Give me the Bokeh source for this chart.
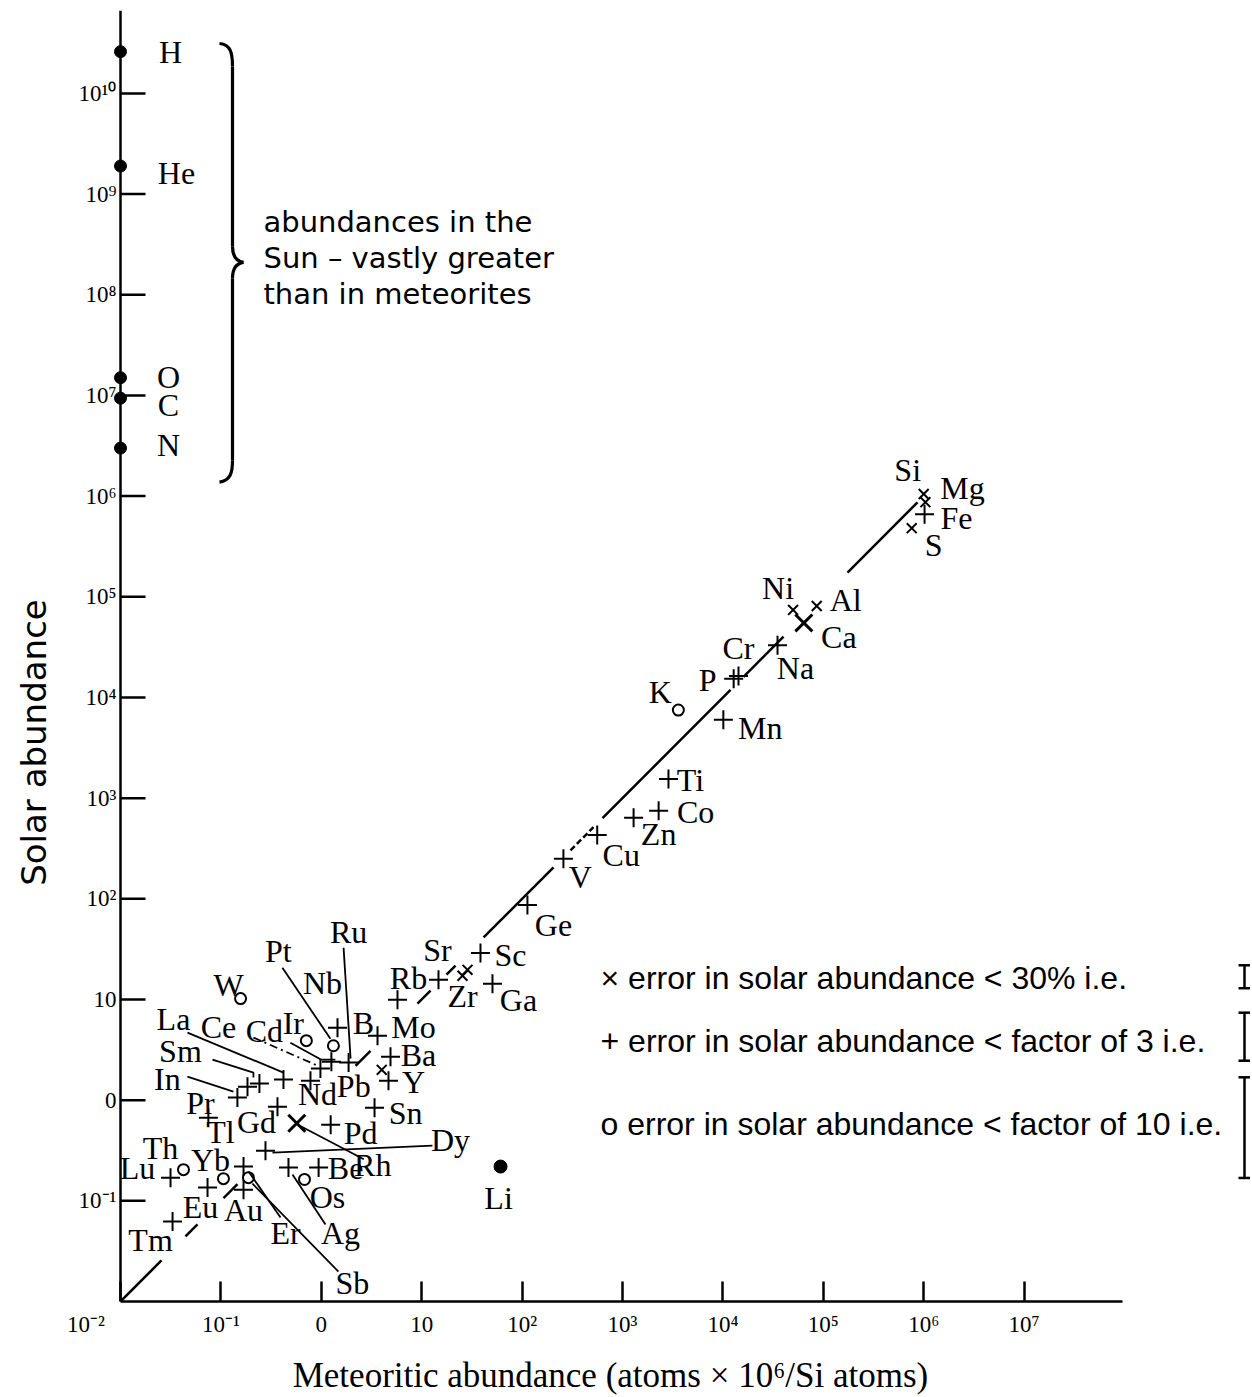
import math
from bokeh.plotting import figure
from bokeh.models import FixedTicker, Span
from bokeh.core.properties import value
from bokeh.embed import file_html
from bokeh.resources import INLINE

# ---------------- data ----------------
# Elements only measured in the Sun (drawn on the solar axis)
sun_elements = ["H", "He", "O", "C", "N"]
sun_abundance = [2.6e10, 1.9e9, 1.5e7, 9.4e6, 3.0e6]

# x : error in solar abundance < 30%
x_elements   = ["Si", "Mg", "S", "Ni", "Al", "Ca", "Sr", "Zr", "Pb", "Rh"]
x_meteoritic = [1.0e6, 1.04e6, 7.6e5, 5.0e4, 8.6e4, 6.4e4, 28.6, 25.5, 4.0, 0.57]
x_solar      = [1.05e6, 8.7e5, 4.8e5, 7.4e4, 8.1e4, 5.5e4, 19.7, 17.2, 2.0, 0.59]

# + : error in solar abundance < factor of 3
plus_elements = ["Fe", "Na", "Cr", "P", "Mn", "Ti", "Co", "Zn", "Cu", "V", "Ge",
                 "Sc", "Rb", "Ga", "Mo", "B", "Ba", "Y", "Sn", "Pd", "Ru", "Nb",
                 "Cd", "Ce", "La", "Sm", "In", "Pr", "Tl", "Nd", "Gd", "Dy", "Ag",
                 "Be", "Er", "Au", "Eu", "Lu", "Tm"]
plus_meteoritic = [1.02e6, 3.5e4, 1.43e4, 1.28e4, 1.01e4, 2.87e3, 2.29e3, 1.29e3,
                   5.6e2, 2.58e2, 1.13e2, 38.5, 14.7, 50.7, 5.74, 3.63, 4.89, 4.67,
                   3.39, 1.24, 1.87, 1.45, 1.26, 0.98, 0.42, 0.242, 0.146, 0.184,
                   0.075, 0.78, 0.366, 0.278, 0.471, 0.94, 0.168, 0.168, 0.0736,
                   0.0315, 0.033]
plus_solar = [6.6e5, 3.3e4, 1.63e4, 1.53e4, 6.0e3, 1.55e3, 7.5e2, 6.4e2, 4.3e2,
              2.5e2, 87, 29, 15.7, 14.3, 9.95, 4.37, 2.70, 1.56, 0.84, 0.57, 2.36,
              5.25, 2.41, 2.06, 1.60, 1.46, 1.06, 1.36, 0.67, 1.56, 0.86, 0.315,
              0.214, 0.214, 0.219, 0.129, 0.1355, 0.170, 0.0622]

# o : error in solar abundance < factor of 10
o_elements   = ["K", "Pt", "Ir", "Os", "Sb", "Yb", "Th", "W"]
o_meteoritic = [3.6e3, 1.32, 0.71, 0.68, 0.188, 0.106, 0.0424, 0.157]
o_solar      = [7.5e3, 3.47, 3.90, 0.163, 0.170, 0.166, 0.204, 10.2]

# Li (filled point)
li_meteoritic = [61]
li_solar = [0.219]

# equal-abundance line (log10 extents of its drawn pieces)
diag_solid = [(-2.0, -1.592), (-1.353, -1.233), (-0.974, -0.835), (0.341, 0.490),
              (0.958, 1.088), (1.247, 1.337), (1.616, 2.313), (2.801, 4.076),
              (4.205, 4.604), (5.241, 5.938)]
diag_dashed = [(2.482, 2.711)]

FSP = "\u2007"  # figure space (keeps the corner label / titles where the original has them)
x_ticks = [1e-2, 1e-1, 1.0, 10.0, 1e2, 1e3, 1e4, 1e5, 1e6, 1e7]
x_tick_labels = ["10⁻²" + FSP * 6, "10⁻¹", "0", "10", "10²", "10³", "10⁴", "10⁵",
                 "10⁶", "10⁷"]
y_ticks = [1e-2, 1e-1, 1.0, 10.0, 1e2, 1e3, 1e4, 1e5, 1e6, 1e7, 1e8, 1e9, 1e10]
y_tick_labels = ["", "10⁻¹", "0", "10", "10²", "10³", "10⁴", "10⁵", "10⁶", "10⁷",
                 "10⁸", "10⁹", "10¹⁰"]

x_title = "Meteoritic abundance (atoms × 10⁶/Si atoms)"
y_title = "Solar abundance"

legend_texts = ["× error in solar abundance < 30% i.e.",
                "+ error in solar abundance < factor of 3 i.e.",
                "o error in solar abundance < factor of 10 i.e."]
legend_error_factors = [1.3, 3 ** 0.5, 10 ** 0.5]   # half-range of each bar

sun_note = ["abundances in the", "Sun – vastly greater", "than in meteorites"]

# ---------------- layout ----------------
W, H = 1250, 1397
ML, MR, MT = 110, 0, 10
PXX = 100.4          # pixels per decade, x
PXY = 100.75         # pixels per decade, y
AX_X, AX_Y = 120, 1302   # page position of the origin (10^-2, 10^-2)
FW = W - ML - MR
FH = AX_Y - MT
MB = H - MT - FH
X0 = -2.0 - (AX_X - ML) / PXX
X1 = X0 + FW / PXX
Y0 = -2.0
Y1 = Y0 + FH / PXY


def px2data(px, py):
    return (10 ** (X0 + (px - ML) / PXX), 10 ** (Y0 + (AX_Y - py) / PXY))


def shift(x, y, dx, dy):
    return x * 10 ** (dx / PXX), y * 10 ** (-dy / PXY)


# label offsets (pixels from the point)
label_off = {
    "Si": (-16, -24), "Mg": (37, -14), "Fe": (32, 4), "S": (22, 17),
    "Ni": (-15, -22), "Al": (29, -6), "Ca": (35, 14), "Na": (18, 23),
    "Cr": (0, -28), "P": (-26, 1), "K": (-18, -18), "Mn": (37, 8),
    "Ti": (22, 1), "Co": (37, 1), "Zn": (25, 16), "Cu": (24, 20),
    "V": (17, 18), "Ge": (26, 20), "Sc": (30, 2), "Sr": (-30, -20),
    "Zr": (0, 20), "Rb": (-30, -2), "Ga": (26, 16), "Mo": (16, 27),
    "B": (-14, -13), "Ba": (28, -2), "Y": (25, 1), "Pb": (-28, 16),
    "Sn": (31, 5), "Pd": (30, 8), "Ru": (0, -131), "Nb": (-15, -45),
    "Pt": (-55, -95), "Ir": (-13, -18), "Cd": (-67, -31), "Ce": (-102, -42),
    "La": (-110, -61), "Sm": (-79, -33), "In": (-70, -19), "Pr": (-47, 16),
    "Tl": (12, 14), "Nd": (7, 13), "Gd": (-21, 15), "Rh": (76, 42),
    "Dy": (185, -11), "Be": (27, 0), "Os": (23, 18), "Ag": (52, 65),
    "Sb": (104, 105), "Er": (42, 66), "Au": (0, 20), "Eu": (-7, 19),
    "Yb": (-13, -19), "Th": (-23, -22), "Lu": (-33, -10), "Tm": (-22, 18),
    "Li": (-2, 31), "W": (-12, -14),
}
sun_label_off = {"H": (50, 0), "He": (56, 7), "O": (48, -1), "C": (48, 7), "N": (48, -3)}

# leader lines (pixel offsets from the point): name -> (polyline, dash)
leaders = {
    "Ru": ([(-5, -115), (2, -4)], "solid"),
    "Pt": ([(-51, -78), (-3, -7)], "solid"),
    "Cd": ([(-41, -19), (-10, -2), (4, -2)], "solid"),
    "Ce": ([(-67, -31), (-3, -3)], "8 4 2 4"),
    "La": ([(-96, -47), (0, -7)], "solid"),
    "Sm": ([(-47, -24), (-6, -11), (-6, -6)], "solid"),
    "In": ([(-50, -21), (-4, -6)], "solid"),
    "Rh": ([(4, 3), (67, 36)], "solid"),
    "Dy": ([(7, 2), (167, -5)], "solid"),
    "Ag": ([(4, 7), (37, 57)], "solid"),
    "Sb": ([(4, 6), (90, 94)], "solid"),
    "Er": ([(5, 5), (37, 51)], "solid"),
}

SERIF = "Liberation Serif"
Y_TICK_LEN = 25

p = figure(width=W, height=H, x_axis_type="log", y_axis_type="log",
           x_range=(10 ** X0, 10 ** X1), y_range=(10 ** Y0, 10 ** Y1),
           output_backend="svg", toolbar_location=None,
           min_border_left=ML, min_border_right=MR,
           min_border_top=MT, min_border_bottom=MB)
p.grid.visible = False
p.outline_line_color = None
p.background_fill_color = "white"
p.border_fill_color = "white"

for ax in (p.xaxis[0], p.yaxis[0]):
    ax.axis_line_width = 2.5
    ax.axis_line_color = "black"
    ax.major_tick_line_width = 2.5
    ax.major_tick_line_color = "black"
    ax.minor_tick_line_color = None
    ax.major_tick_out = 0
    ax.major_label_text_font = SERIF
    ax.major_label_text_font_size = "23px"
    ax.major_label_text_color = "black"
    ax.axis_label_text_color = "black"
    ax.axis_label_text_font_style = "normal"

p.xaxis.ticker = FixedTicker(ticks=x_ticks)
p.xaxis.major_label_overrides = dict(zip(x_ticks, x_tick_labels))
p.xaxis.major_tick_in = 20
p.xaxis.major_label_standoff = 10
p.xaxis.bounds = (1e-2, 10 ** 7.98)
p.xaxis.axis_label = x_title + FSP * 8
p.xaxis.axis_label_text_font = SERIF
p.xaxis.axis_label_text_font_size = "35px"
p.xaxis.axis_label_standoff = 16

# y axis: labels from Bokeh, the axis line and its ticks drawn at 10^-2
p.yaxis.ticker = FixedTicker(ticks=y_ticks)
p.yaxis.major_label_overrides = dict(zip(y_ticks, y_tick_labels))
p.yaxis.axis_line_color = None
p.yaxis.major_tick_line_color = None
p.yaxis.major_tick_in = 0
p.yaxis.major_label_standoff = -6
p.yaxis.axis_label = y_title + FSP * 8
p.yaxis.axis_label_text_font = "DejaVu Sans"
p.yaxis.axis_label_text_font_size = "34px"
p.yaxis.axis_label_standoff = 22

p.add_layout(Span(location=1e-2, dimension="height", line_color="black", line_width=2.5))
yt = y_ticks[1:]
p.segment(x0=[1e-2] * len(yt), y0=yt, x1=[1e-2 * 10 ** (Y_TICK_LEN / PXX)] * len(yt),
          y1=yt, line_color="black", line_width=2.5)

# equal abundance line
p.segment(x0=[10 ** a for a, b in diag_solid], y0=[10 ** a for a, b in diag_solid],
          x1=[10 ** b for a, b in diag_solid], y1=[10 ** b for a, b in diag_solid],
          line_color="black", line_width=2.5)
p.segment(x0=[10 ** a for a, b in diag_dashed], y0=[10 ** a for a, b in diag_dashed],
          x1=[10 ** b for a, b in diag_dashed], y1=[10 ** b for a, b in diag_dashed],
          line_color="black", line_width=2.5, line_dash="6 3")

# all measured points
allpts = {}
for n, xv, yv in zip(x_elements, x_meteoritic, x_solar):
    allpts[n] = (xv, yv)
for n, xv, yv in zip(plus_elements, plus_meteoritic, plus_solar):
    allpts[n] = (xv, yv)
for n, xv, yv in zip(o_elements, o_meteoritic, o_solar):
    allpts[n] = (xv, yv)
allpts["Li"] = (li_meteoritic[0], li_solar[0])

# leader lines
for name, (poly, dash) in leaders.items():
    xv, yv = allpts[name]
    xs, ys = [], []
    for dx, dy in poly:
        a, b = shift(xv, yv, dx, dy)
        xs.append(a)
        ys.append(b)
    p.line(xs, ys, line_color="black", line_width=1.8, line_dash=dash)

# markers
big_x = {"Ca", "Rh"}
sx = [(n, a, b) for n, a, b in zip(x_elements, x_meteoritic, x_solar) if n not in big_x]
bx = [(n, a, b) for n, a, b in zip(x_elements, x_meteoritic, x_solar) if n in big_x]
p.scatter([a for _, a, _ in sx], [b for _, _, b in sx], marker="x", size=14,
          line_color="black", line_width=2)
p.scatter([a for _, a, _ in bx], [b for _, _, b in bx], marker="x", size=24,
          line_color="black", line_width=3)
p.scatter(plus_meteoritic, plus_solar, marker="cross", size=19,
          line_color="black", line_width=2)
p.scatter(o_meteoritic, o_solar, marker="circle", size=11, fill_color=None,
          line_color="black", line_width=2)
p.scatter(li_meteoritic, li_solar, marker="circle", size=13, fill_color="black",
          line_color="black")

sun_x = [1e-2] * len(sun_elements)
p.scatter(sun_x, sun_abundance, marker="circle", size=12, fill_color="black",
          line_color="black")

# element labels
lx, ly, lt = [], [], []
for name, (xv, yv) in allpts.items():
    dx, dy = label_off[name]
    a, b = shift(xv, yv, dx, dy)
    lx.append(a); ly.append(b); lt.append(name)
for name, yv in zip(sun_elements, sun_abundance):
    dx, dy = sun_label_off[name]
    a, b = shift(1e-2, yv, dx, dy)
    lx.append(a); ly.append(b); lt.append(name)
p.text(x=lx, y=ly, text=lt, text_font=value(SERIF), text_font_size="32px",
       text_align="center", text_baseline="middle", text_color="black")

# brace for the solar-only elements
def bz(pts):
    (x0, y0), (c0x, c0y), (c1x, c1y), (x1, y1) = [px2data(*q) for q in pts]
    return dict(x0=[x0], y0=[y0], cx0=[c0x], cy0=[c0y], cx1=[c1x], cy1=[c1y], x1=[x1], y1=[y1])

for pts in ([(219, 43), (230, 44), (232, 52), (232, 66)],
            [(232, 246), (232, 256), (236, 261), (243, 262)],
            [(243, 262), (236, 263), (232, 268), (232, 278)],
            [(232, 460), (232, 473), (230, 480), (219, 482)]):
    p.bezier(**bz(pts), line_color="black", line_width=3.2)
for (ya, yb) in ((66, 246), (278, 460)):
    xa, y_a = px2data(232, ya)
    _, y_b = px2data(232, yb)
    p.segment(x0=[xa], y0=[y_a], x1=[xa], y1=[y_b], line_color="black", line_width=3.2)

nx, _ = px2data(263, 0)
for i, t in enumerate(sun_note):
    _, yy = px2data(0, 222 + 36 * i)
    p.text(x=[nx], y=[yy], text=[t], text_font=value("DejaVu Sans"),
           text_font_size="29px", text_align="left", text_baseline="middle",
           text_color="black")

# error legend with bars
leg_x, _ = px2data(600, 0)
bar_x, _ = px2data(1244, 0)
cap_l, _ = px2data(1238, 0)
cap_r, _ = px2data(1250, 0)
for t, f, (ty, by) in zip(legend_texts, legend_error_factors,
                          ((978, 977), (1041, 1037), (1124, 1128))):
    _, yy = px2data(0, ty)
    p.text(x=[leg_x], y=[yy], text=[t], text_font=value("Liberation Sans"),
           text_font_size="32px", text_align="left", text_baseline="middle",
           text_color="black")
    _, yc = px2data(0, by)
    p.segment(x0=[bar_x], y0=[yc / f], x1=[bar_x], y1=[yc * f],
              line_color="black", line_width=2.5)
    p.segment(x0=[cap_l, cap_l], y0=[yc / f, yc * f], x1=[cap_r, cap_r],
              y1=[yc / f, yc * f], line_color="black", line_width=2.5)

open("out.html", "w").write(file_html(p, INLINE))
